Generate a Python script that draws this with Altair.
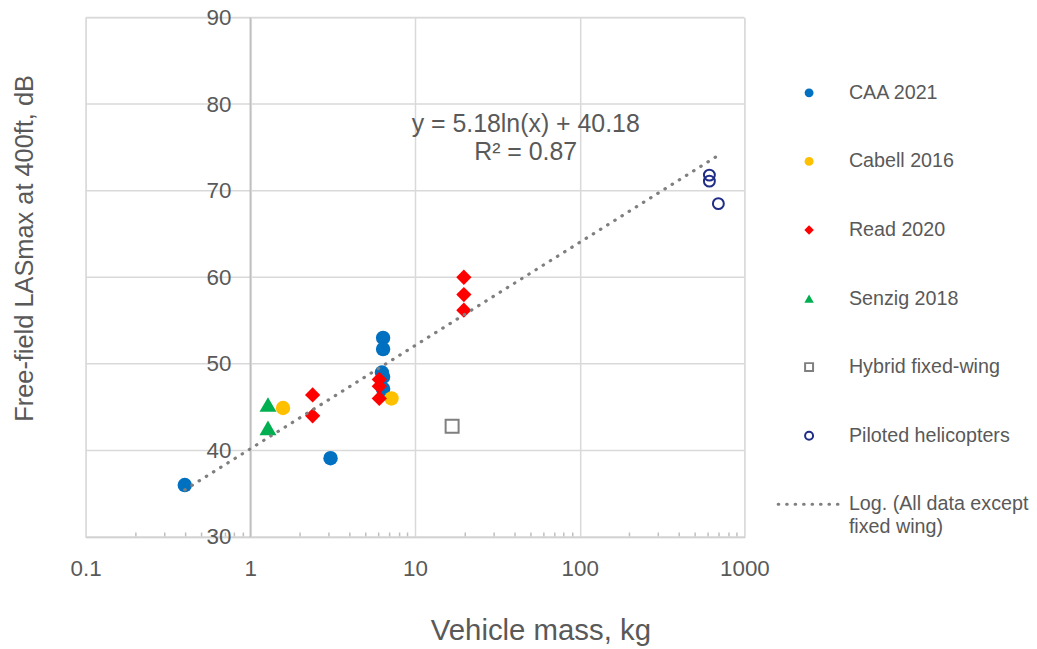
import altair as alt
import pandas as pd

# ---------------- data ----------------
caa_mass = [0.4, 3.07, 6.4, 6.4, 6.3, 6.4, 6.4]
caa_db = [36.0, 39.1, 53.0, 51.7, 49.0, 48.5, 47.1]

cabell_mass = [1.58, 7.2]
cabell_db = [44.9, 46.0]

read_mass = [2.39, 2.39, 6.07, 6.07, 6.07, 19.8, 19.8, 19.8]
read_db = [46.4, 44.0, 48.2, 47.4, 46.0, 60.0, 58.0, 56.2]

senzig_mass = [1.28, 1.28]
senzig_db = [45.3, 42.6]

hybrid_mass = [16.8]
hybrid_db = [42.8]

heli_mass = [613, 613, 695]
heli_db = [71.8, 71.1, 68.5]

series_names = ["CAA 2021", "Cabell 2016", "Read 2020", "Senzig 2018",
                "Hybrid fixed-wing", "Piloted helicopters"]
trend_name = "Log. (All data except\nfixed wing)"
x_title = "Vehicle mass, kg"
y_title = "Free-field LASmax at 400ft, dB"

trend_a = 5.18
trend_b = 40.18
trend_r2 = 0.87
trend_mass = [0.4, 708]

x_ticks = [0.1, 1, 10, 100, 1000]
x_minor = [0.2, 0.3, 0.4, 0.5, 0.6, 0.7, 0.8, 0.9,
           2, 3, 4, 5, 6, 7, 8, 9,
           20, 30, 40, 50, 60, 70, 80, 90,
           200, 300, 400, 500, 600, 700, 800, 900]
y_ticks = [30, 40, 50, 60, 70, 80, 90]
y_axis_cross = 1  # the vertical axis crosses the mass axis at 1 kg

# ---------------- styles ----------------
TEXT = "#595959"
FONT = "Liberation Sans"
GRID = "#d9d9d9"
AXIS = "#bfbfbf"

style = {
    "CAA 2021": dict(shape="circle", fill="#0070C0", stroke="#0070C0", sw=0, size=210, lsize=80),
    "Cabell 2016": dict(shape="circle", fill="#FFC000", stroke="#FFC000", sw=0, size=210, lsize=80),
    "Read 2020": dict(shape="diamond", fill="#FF0000", stroke="#FF0000", sw=0, size=235, lsize=90),
    "Senzig 2018": dict(shape="triangle-up", fill="#00B050", stroke="#00B050", sw=0, size=290, lsize=90),
    "Hybrid fixed-wing": dict(shape="square", fill="transparent", stroke="#7F7F7F", sw=2, size=170, lsize=64),
    "Piloted helicopters": dict(shape="circle", fill="transparent", stroke="#1F2C88", sw=2, size=120, lsize=64),
}

values = [(caa_mass, caa_db), (cabell_mass, cabell_db), (read_mass, read_db),
          (senzig_mass, senzig_db), (hybrid_mass, hybrid_db), (heli_mass, heli_db)]

rows = []
for name, (xs, ys) in zip(series_names, values):
    for xv, yv in zip(xs, ys):
        s = style[name]
        rows.append(dict(series=name, mass=xv, db=yv, shape=s["shape"], fill=s["fill"],
                         stroke=s["stroke"], sw=s["sw"], size=s["size"]))
pts = pd.DataFrame(rows)

W, H = 662, 522
x_scale = alt.Scale(type="log", domain=[0.1, 1000], nice=False)
y_scale = alt.Scale(domain=[30, 90], nice=False, zero=False)

x_axis = alt.Axis(values=x_ticks, format="~g", grid=True, gridColor=GRID, gridWidth=1.5,
                  domain=True, domainColor=AXIS, domainWidth=1.5, ticks=False,
                  labelFontSize=22.5, labelColor=TEXT, labelFont=FONT, labelPadding=32,
                  labelBaseline="middle", labelFlush=False, labelOverlap=False,
                  title=x_title, titleFontSize=29.5, titleFontWeight="normal",
                  titleColor=TEXT, titleFont=FONT, titleX=457, titleY=94,
                  titleAlign="center", titleBaseline="middle")

minor_axis = alt.Axis(orient="top", offset=-H, values=x_minor, labels=False, grid=False,
                      domain=False, ticks=True, tickSize=5, tickColor=AXIS, tickWidth=1.5,
                      title=None)

# horizontal grid lines
ygrid = alt.Chart(pd.DataFrame({"db": y_ticks})).mark_rule(
    color=GRID, strokeWidth=1.5).encode(
    y=alt.Y("db:Q", scale=y_scale, axis=None))

# vertical axis line at mass = 1
cross_line = alt.Chart(pd.DataFrame({"mass": [y_axis_cross]})).mark_rule(
    color=AXIS, strokeWidth=1.5).encode(
    x=alt.X("mass:Q", scale=x_scale, axis=None))

points = alt.Chart(pts).mark_point(opacity=1, fillOpacity=1).encode(
    x=alt.X("mass:Q", scale=x_scale, axis=x_axis),
    y=alt.Y("db:Q", scale=y_scale, axis=None),
    shape=alt.Shape("shape:N", scale=None),
    fill=alt.Fill("fill:N", scale=None),
    stroke=alt.Stroke("stroke:N", scale=None),
    strokeWidth=alt.StrokeWidth("sw:Q", scale=None),
    size=alt.Size("size:Q", scale=None),
)

# y tick labels, placed next to the crossing axis
ylab = alt.Chart(pd.DataFrame({"db": y_ticks, "mass": [y_axis_cross] * len(y_ticks)})).mark_text(
    fontSize=22.5, font=FONT, color=TEXT, align="right", baseline="middle", dx=-19, dy=0.5).encode(
    x=alt.X("mass:Q", scale=x_scale, axis=None),
    y=alt.Y("db:Q", scale=y_scale, axis=None),
    text=alt.Text("db:Q", format="d"),
)

# y axis title
ytitle = alt.Chart(pd.DataFrame({"t": [y_title]})).mark_text(
    fontSize=25.5, font=FONT, color=TEXT, align="center", baseline="middle", angle=270,
    clip=False).encode(x=alt.value(-61), y=alt.value(232), text="t:N")

trend = alt.Chart(pd.DataFrame({"mass": trend_mass})).transform_calculate(
    db=f"{trend_a}*log(datum.mass)+{trend_b}"
).mark_line(color="#7F7F7F", strokeWidth=3.2, strokeDash=[0.5, 8], strokeCap="round").encode(
    x=alt.X("mass:Q", scale=x_scale, axis=minor_axis),
    y=alt.Y("db:Q", scale=y_scale, axis=None),
)

eq_df = pd.DataFrame({
    "mass": [47, 47],
    "db": [77.66, 74.44],
    "label": [f"y = {trend_a:.2f}ln(x) + {trend_b:.2f}", f"R\u00b2 = {trend_r2:.2f}"],
})
eq_text = alt.Chart(eq_df).mark_text(fontSize=25, font=FONT, color=TEXT, align="center",
                                     baseline="middle").encode(
    x=alt.X("mass:Q", scale=x_scale, axis=None),
    y=alt.Y("db:Q", scale=y_scale, axis=None),
    text="label:N",
)

# ---------------- legend (drawn to the right of the plot) ----------------
legend_order = series_names + [trend_name]
leg_rows = []
for i, name in enumerate(legend_order):
    s = style.get(name, dict(shape="circle", fill="transparent", stroke="transparent", sw=0, lsize=0))
    leg_rows.append(dict(label=name, row=i, shape=s["shape"], fill=s["fill"], stroke=s["stroke"],
                         sw=s["sw"], lsize=s["lsize"], is_trend=(name == trend_name)))
leg = pd.DataFrame(leg_rows)

LEG_TOP, LEG_STEP = 75.7, 68.9
leg_base = alt.Chart(leg).transform_calculate(ypx=f"{LEG_TOP} + {LEG_STEP}*datum.row")
leg_y = alt.Y("ypx:Q", scale=None, axis=None)

leg_sym = leg_base.transform_filter("!datum.is_trend").mark_point(
    opacity=1, fillOpacity=1, clip=False).encode(
    x=alt.value(727),
    y=leg_y,
    shape=alt.Shape("shape:N", scale=None),
    fill=alt.Fill("fill:N", scale=None),
    stroke=alt.Stroke("stroke:N", scale=None),
    strokeWidth=alt.StrokeWidth("sw:Q", scale=None),
    size=alt.Size("lsize:Q", scale=None),
)
leg_txt = leg_base.mark_text(fontSize=19.8, font=FONT, color=TEXT, align="left",
                             baseline="top", dy=-10, lineBreak="\n", lineHeight=23,
                             clip=False).encode(
    x=alt.value(767), y=leg_y, text="label:N")
leg_line = leg_base.transform_filter("datum.is_trend").mark_rule(
    color="#7F7F7F", strokeWidth=3.2, strokeDash=[0.5, 8], strokeCap="round", clip=False).encode(
    x=alt.value(696), x2=alt.value(757), y=leg_y)

chart = alt.layer(ygrid, cross_line, points, trend, ylab, ytitle, eq_text,
                  leg_sym, leg_txt, leg_line).resolve_axis(
    x="independent").properties(
    width=W, height=H,
    autosize=alt.AutoSizeParams(type="none"),
    padding={"left": 78, "top": 8, "right": 286, "bottom": 110},
).configure_view(stroke=None).configure(background="white")

chart.save("out.html", embed_options={"renderer": "svg", "actions": False})
